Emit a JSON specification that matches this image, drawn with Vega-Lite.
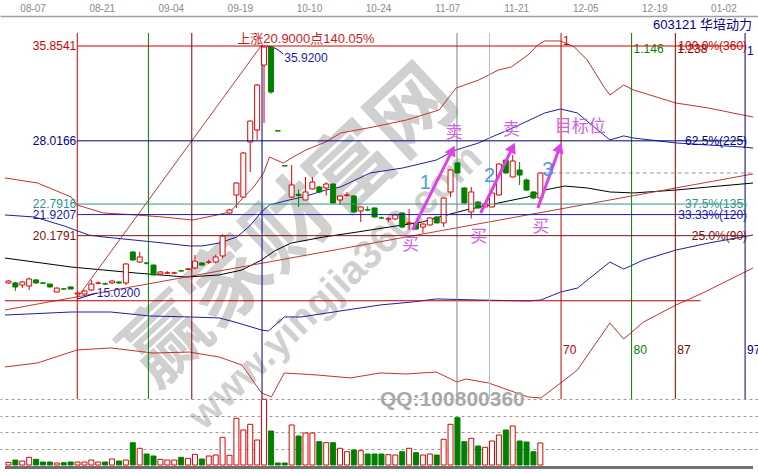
{
"$schema":"https://vega.github.io/schema/vega-lite/v6.json",
"width":758,"height":472,"autosize":{"type":"none"},"padding":0,"background":"#ffffff",
"config":{"view":{"stroke":null},"text":{"font":"Liberation Sans, Noto Sans CJK SC"}},
"datasets":{
"k":[
{"i":0,"o":16.27,"h":16.5,"l":16.2,"c":16.43,"v":2.7},
{"i":1,"o":16.27,"h":16.35,"l":15.61,"c":15.94,"v":5},
{"i":2,"o":16.10,"h":16.4,"l":15.85,"c":16.35,"v":4},
{"i":3,"o":16.02,"h":16.7,"l":15.69,"c":16.60,"v":7.7},
{"i":4,"o":16.52,"h":16.6,"l":16.2,"c":16.27,"v":5.7},
{"i":5,"o":16.27,"h":16.35,"l":16.18,"c":16.25,"v":3},
{"i":6,"o":16.18,"h":16.2,"l":15.9,"c":15.94,"v":3},
{"i":7,"o":15.52,"h":15.9,"l":15.5,"c":15.85,"v":2},
{"i":8,"o":15.78,"h":15.85,"l":15.7,"c":15.77,"v":2.3},
{"i":9,"o":15.94,"h":16.0,"l":15.75,"c":15.77,"v":3},
{"i":10,"o":15.36,"h":15.5,"l":15.02,"c":15.44,"v":3},
{"i":11,"o":15.36,"h":15.7,"l":15.3,"c":15.61,"v":3},
{"i":12,"o":15.69,"h":16.5,"l":15.6,"c":16.18,"v":5},
{"i":13,"o":16.25,"h":16.4,"l":16.15,"c":16.27,"v":3},
{"i":14,"o":16.20,"h":16.3,"l":16.1,"c":16.18,"v":3},
{"i":15,"o":16.27,"h":16.5,"l":16.2,"c":16.43,"v":6},
{"i":16,"o":16.35,"h":16.4,"l":16.2,"c":16.27,"v":4},
{"i":17,"o":16.27,"h":17.9,"l":16.1,"c":17.84,"v":5},
{"i":18,"o":18.83,"h":18.9,"l":18.1,"c":18.17,"v":22.3},
{"i":19,"o":18.00,"h":18.83,"l":17.95,"c":18.42,"v":16.7},
{"i":20,"o":17.92,"h":18.0,"l":17.8,"c":17.90,"v":11},
{"i":21,"o":17.75,"h":17.8,"l":16.9,"c":16.93,"v":9},
{"i":22,"o":17.01,"h":17.25,"l":16.95,"c":17.18,"v":5.7},
{"i":23,"o":17.09,"h":17.25,"l":17.0,"c":17.10,"v":5},
{"i":24,"o":17.09,"h":17.2,"l":17.0,"c":17.10,"v":5},
{"i":25,"o":17.28,"h":17.35,"l":17.2,"c":17.26,"v":7.7},
{"i":26,"o":17.40,"h":17.5,"l":17.35,"c":17.42,"v":6.7},
{"i":27,"o":17.51,"h":18.58,"l":17.4,"c":18.08,"v":10.7},
{"i":28,"o":17.92,"h":18.0,"l":17.7,"c":17.75,"v":6},
{"i":29,"o":17.98,"h":18.2,"l":17.85,"c":18.00,"v":9},
{"i":30,"o":18.00,"h":18.6,"l":17.9,"c":18.42,"v":10},
{"i":31,"o":18.50,"h":20.3,"l":18.3,"c":20.15,"v":27.7},
{"i":32,"o":22.05,"h":22.4,"l":22.0,"c":22.30,"v":9.7},
{"i":33,"o":23.54,"h":24.6,"l":22.47,"c":24.53,"v":46.7},
{"i":34,"o":23.37,"h":27.1,"l":23.3,"c":27.01,"v":35},
{"i":35,"o":27.92,"h":29.7,"l":25.44,"c":29.65,"v":40.7},
{"i":36,"o":28.91,"h":32.7,"l":28.09,"c":32.63,"v":25},
{"i":37,"o":34.28,"h":35.92,"l":29.49,"c":35.77,"v":65.7},
{"i":38,"o":35.77,"h":35.85,"l":31.9,"c":32.05,"v":34},
{"i":39,"o":28.85,"h":28.85,"l":28.83,"c":28.83,"v":2},
{"i":40,"o":25.96,"h":25.96,"l":25.94,"c":25.94,"v":2},
{"i":41,"o":23.37,"h":26.02,"l":23.3,"c":24.37,"v":40},
{"i":42,"o":23.6,"h":24.0,"l":22.55,"c":23.5,"v":29},
{"i":43,"o":23.13,"h":25.03,"l":23.1,"c":23.79,"v":32},
{"i":44,"o":24.04,"h":25.03,"l":24.0,"c":24.61,"v":32},
{"i":45,"o":24.20,"h":24.3,"l":23.7,"c":23.79,"v":23.3},
{"i":46,"o":24.12,"h":24.6,"l":23.5,"c":24.45,"v":22.3},
{"i":47,"o":24.45,"h":24.5,"l":22.8,"c":22.88,"v":22.3},
{"i":48,"o":23.13,"h":23.5,"l":22.71,"c":23.46,"v":16.7},
{"i":49,"o":23.52,"h":23.8,"l":23.4,"c":23.54,"v":13.3},
{"i":50,"o":23.46,"h":23.5,"l":22.1,"c":22.14,"v":15},
{"i":51,"o":22.22,"h":22.6,"l":21.31,"c":22.55,"v":14.3},
{"i":52,"o":22.32,"h":22.6,"l":22.2,"c":22.30,"v":11},
{"i":53,"o":22.47,"h":22.5,"l":21.65,"c":21.72,"v":11},
{"i":54,"o":21.65,"h":21.75,"l":21.55,"c":21.64,"v":11},
{"i":55,"o":21.55,"h":21.7,"l":21.3,"c":21.57,"v":10.3},
{"i":56,"o":21.56,"h":22.0,"l":21.5,"c":21.89,"v":10},
{"i":57,"o":22.05,"h":22.1,"l":20.8,"c":20.89,"v":13.3},
{"i":58,"o":21.2,"h":22.38,"l":20.65,"c":21.23,"v":16.7},
{"i":59,"o":21.23,"h":21.3,"l":20.65,"c":20.73,"v":12.3},
{"i":60,"o":20.89,"h":21.2,"l":20.40,"c":21.14,"v":10},
{"i":61,"o":21.06,"h":21.7,"l":21.0,"c":21.64,"v":11},
{"i":62,"o":21.72,"h":21.8,"l":21.2,"c":21.23,"v":10},
{"i":63,"o":21.23,"h":23.35,"l":20.9,"c":23.29,"v":25.7},
{"i":64,"o":23.79,"h":25.65,"l":23.37,"c":25.61,"v":40.7},
{"i":65,"o":26.19,"h":26.25,"l":25.3,"c":25.36,"v":47.3},
{"i":66,"o":24.12,"h":24.2,"l":22.8,"c":22.88,"v":23.3},
{"i":67,"o":22.14,"h":24.2,"l":21.6,"c":23.79,"v":26.7},
{"i":68,"o":22.96,"h":23.0,"l":22.4,"c":22.47,"v":19},
{"i":69,"o":22.55,"h":22.85,"l":22.5,"c":22.80,"v":17.7},
{"i":70,"o":22.55,"h":23.75,"l":22.5,"c":23.71,"v":24},
{"i":71,"o":23.54,"h":26.15,"l":23.5,"c":26.10,"v":30},
{"i":72,"o":26.43,"h":26.5,"l":25.3,"c":25.36,"v":35},
{"i":73,"o":25.03,"h":26.85,"l":25.0,"c":26.35,"v":39},
{"i":74,"o":25.61,"h":26.27,"l":24.37,"c":25.19,"v":24},
{"i":75,"o":24.78,"h":24.9,"l":23.9,"c":23.95,"v":23},
{"i":76,"o":23.79,"h":23.85,"l":23.2,"c":23.29,"v":13.3},
{"i":77,"o":23.29,"h":25.4,"l":23.2,"c":25.36,"v":22}
],
"bd":[
{"s":"ur","i":-0.5,"p":24.95},{"s":"ur","i":4.21,"p":24.53},{"s":"ur","i":9.07,"p":23.38},{"s":"ur","i":9.93,"p":22.71},{"s":"ur","i":13.79,"p":22.05},{"s":"ur","i":18.5,"p":21.89},{"s":"ur","i":22.36,"p":21.72},{"s":"ur","i":26.64,"p":21.47},{"s":"ur","i":30.21,"p":21.89},{"s":"ur","i":32.07,"p":22.14},{"s":"ur","i":34.07,"p":23.38},{"s":"ur","i":35.5,"p":24.2},{"s":"ur","i":36.93,"p":25.36},{"s":"ur","i":37.79,"p":26.68},{"s":"ur","i":39.79,"p":26.18},{"s":"ur","i":41.21,"p":26.68},{"s":"ur","i":43.07,"p":27.26},{"s":"ur","i":45.93,"p":27.92},{"s":"ur","i":48.07,"p":28.66},{"s":"ur","i":52.79,"p":29.16},{"s":"ur","i":57.64,"p":29.74},{"s":"ur","i":62.36,"p":30.57},{"s":"ur","i":64.79,"p":32.38},{"s":"ur","i":68.07,"p":33.04},{"s":"ur","i":70.93,"p":33.87},{"s":"ur","i":72.79,"p":34.12},{"s":"ur","i":75.21,"p":35.11},{"s":"ur","i":76.64,"p":35.94},{"s":"ur","i":77.64,"p":36.27},{"s":"ur","i":79.93,"p":36.27},{"s":"ur","i":81.93,"p":35.77},{"s":"ur","i":83.79,"p":34.7},{"s":"ur","i":86.21,"p":32.47},{"s":"ur","i":87.07,"p":31.8},{"s":"ur","i":89.07,"p":32.63},{"s":"ur","i":90.5,"p":32.22},{"s":"ur","i":96.64,"p":31.14},{"s":"ur","i":101.36,"p":30.73},{"s":"ur","i":106.21,"p":30.16},{"s":"ur","i":107.79,"p":29.99},
{"s":"ub","i":-0.5,"p":21.89},{"s":"ub","i":3.79,"p":21.72},{"s":"ub","i":8.07,"p":20.98},{"s":"ub","i":11.64,"p":20.23},{"s":"ub","i":13.79,"p":20.07},{"s":"ub","i":20.93,"p":19.66},{"s":"ub","i":26.21,"p":19.33},{"s":"ub","i":28.07,"p":19.33},{"s":"ub","i":30.5,"p":19.57},{"s":"ub","i":33.07,"p":20.07},{"s":"ub","i":34.93,"p":20.98},{"s":"ub","i":36.64,"p":22.14},{"s":"ub","i":37.79,"p":22.71},{"s":"ub","i":40.64,"p":23.13},{"s":"ub","i":42.64,"p":23.38},{"s":"ub","i":45.93,"p":23.95},{"s":"ub","i":48.07,"p":24.2},{"s":"ub","i":52.36,"p":25.36},{"s":"ub","i":57.07,"p":25.77},{"s":"ub","i":61.93,"p":26.43},{"s":"ub","i":64.79,"p":27.26},{"s":"ub","i":68.07,"p":27.84},{"s":"ub","i":69.93,"p":28.33},{"s":"ub","i":72.36,"p":28.91},{"s":"ub","i":77.64,"p":30.32},{"s":"ub","i":79.93,"p":30.65},{"s":"ub","i":82.36,"p":30.32},{"s":"ub","i":84.79,"p":29.16},{"s":"ub","i":87.07,"p":28.09},{"s":"ub","i":89.07,"p":28.42},{"s":"ub","i":90.5,"p":28.25},{"s":"ub","i":96.64,"p":27.84},{"s":"ub","i":101.36,"p":27.67},{"s":"ub","i":106.21,"p":27.51},{"s":"ub","i":107.79,"p":27.42},
{"s":"ma","i":-0.5,"p":18.33},{"s":"ma","i":9.07,"p":17.59},{"s":"ma","i":13.79,"p":17.34},{"s":"ma","i":18.5,"p":17.09},{"s":"ma","i":25.64,"p":16.76},{"s":"ma","i":30.5,"p":16.93},{"s":"ma","i":33.79,"p":17.34},{"s":"ma","i":36.64,"p":18.17},{"s":"ma","i":38.5,"p":18.91},{"s":"ma","i":40.93,"p":19.57},{"s":"ma","i":45.64,"p":20.07},{"s":"ma","i":50.5,"p":20.48},{"s":"ma","i":55.21,"p":20.9},{"s":"ma","i":59.93,"p":21.31},{"s":"ma","i":62.36,"p":21.72},{"s":"ma","i":66.21,"p":22.3},{"s":"ma","i":70.93,"p":22.88},{"s":"ma","i":75.21,"p":23.38},{"s":"ma","i":77.64,"p":23.95},{"s":"ma","i":80.5,"p":24.28},{"s":"ma","i":83.79,"p":24.12},{"s":"ma","i":87.07,"p":23.79},{"s":"ma","i":90.5,"p":23.71},{"s":"ma","i":96.64,"p":23.95},{"s":"ma","i":101.36,"p":24.2},{"s":"ma","i":107.79,"p":24.53},
{"s":"lb","i":-0.5,"p":13.62},{"s":"lb","i":9.07,"p":13.87},{"s":"lb","i":14.79,"p":13.87},{"s":"lb","i":20.5,"p":13.54},{"s":"lb","i":26.21,"p":13.46},{"s":"lb","i":30.5,"p":13.38},{"s":"lb","i":32.79,"p":13.04},{"s":"lb","i":36.64,"p":12.38},{"s":"lb","i":37.64,"p":12.3},{"s":"lb","i":39.93,"p":13.46},{"s":"lb","i":42.36,"p":13.46},{"s":"lb","i":47.07,"p":13.87},{"s":"lb","i":53.79,"p":14.45},{"s":"lb","i":58.5,"p":14.7},{"s":"lb","i":61.93,"p":14.95},{"s":"lb","i":68.07,"p":14.86},{"s":"lb","i":75.21,"p":14.78},{"s":"lb","i":77.07,"p":14.86},{"s":"lb","i":79.93,"p":15.52},{"s":"lb","i":82.36,"p":15.85},{"s":"lb","i":87.07,"p":18.0},{"s":"lb","i":89.07,"p":17.42},{"s":"lb","i":91.93,"p":18.17},{"s":"lb","i":96.64,"p":18.99},{"s":"lb","i":101.36,"p":19.57},{"s":"lb","i":106.21,"p":20.07},{"s":"lb","i":107.79,"p":20.23},
{"s":"lr","i":-0.5,"p":9.33},{"s":"lr","i":4.21,"p":9.66},{"s":"lr","i":9.93,"p":10.73},{"s":"lr","i":14.79,"p":10.9},{"s":"lr","i":20.93,"p":10.48},{"s":"lr","i":26.21,"p":10.56},{"s":"lr","i":30.5,"p":10.15},{"s":"lr","i":33.79,"p":9.49},{"s":"lr","i":36.64,"p":7.18},{"s":"lr","i":38.07,"p":6.85},{"s":"lr","i":39.93,"p":8.83},{"s":"lr","i":44.79,"p":8.66},{"s":"lr","i":49.5,"p":8.42},{"s":"lr","i":53.79,"p":8.83},{"s":"lr","i":57.64,"p":8.75},{"s":"lr","i":61.93,"p":8.91},{"s":"lr","i":64.93,"p":8.09},{"s":"lr","i":66.21,"p":8.33},{"s":"lr","i":69.5,"p":8.0},{"s":"lr","i":75.21,"p":6.85},{"s":"lr","i":77.07,"p":6.76},{"s":"lr","i":79.93,"p":8.0},{"s":"lr","i":82.36,"p":9.08},{"s":"lr","i":87.07,"p":12.96},{"s":"lr","i":89.07,"p":11.64},{"s":"lr","i":91.93,"p":13.04},{"s":"lr","i":96.64,"p":14.45},{"s":"lr","i":100.5,"p":15.44},{"s":"lr","i":106.64,"p":17.18},{"s":"lr","i":107.79,"p":17.51}
],
"lv":[
{"lv":"100","p":35.8541,"i":9.96,"i2":106.64,"ir":106.93,"t":"35.8541","r":"100.0%(360)"},
{"lv":"62.5","p":28.0166,"i":9.96,"i2":106.64,"ir":106.93,"t":"28.0166","r":"62.5%(225)"},
{"lv":"37.5","p":22.7916,"i":9.96,"i2":106.64,"ir":106.93,"t":"22.7916","r":"37.5%(135)"},
{"lv":"33.33","p":21.9207,"i":9.96,"i2":106.64,"ir":106.93,"t":"21.9207","r":"33.33%(120)"},
{"lv":"25","p":20.1791,"i":9.96,"i2":106.64,"ir":106.93,"t":"20.1791","r":"25.0%(90)"}
],
"vl":[
{"id":"a","i":9.96,"p":36.93,"p2":6.68,"pb":10.73,"tp":"","bt":"","tq":0},
{"id":"b","i":20.26,"p":36.93,"p2":6.68,"pb":10.73,"tp":"","bt":"","tq":0},
{"id":"c","i":26.54,"p":36.93,"p2":6.68,"pb":10.73,"tp":"","bt":"","tq":0},
{"id":"d","i":36.71,"p":35.92,"p2":6.68,"pb":10.73,"tp":"","bt":"","tq":0},
{"id":"e","i":64.93,"p":36.93,"p2":6.68,"pb":10.73,"tp":"","bt":"","tq":0},
{"id":"f","i":69.64,"p":36.93,"p2":6.68,"pb":10.73,"tp":"","bt":"","tq":0},
{"id":"g","i":80.0,"p":36.93,"p2":6.68,"pb":10.73,"tp":"1","bt":"70","tq":36.27},
{"id":"h","i":90.21,"p":36.93,"p2":6.68,"pb":10.73,"tp":"1.146","bt":"80","tq":35.61},
{"id":"j","i":96.54,"p":36.93,"p2":6.68,"pb":10.73,"tp":"1.238","bt":"87","tq":35.61},
{"id":"m","i":106.64,"p":36.93,"p2":6.68,"pb":10.73,"tp":"1","bt":"97","tq":35.44}
],
"sg":[
{"id":"trend","i":-0.5,"p":14.04,"i2":107.79,"p2":25.28},
{"id":"diag","i":9.93,"p":15.02,"i2":36.64,"p2":35.92},
{"id":"base","i":-0.5,"p":14.80,"i2":100.2,"p2":14.80},
{"id":"lead","i":9.93,"p":14.94,"i2":12.79,"p2":15.44}
],
"ar":[
{"n":1,"i":58.5,"p":20.65,"i2":64.26,"p2":27.23},
{"n":2,"i":68.36,"p":22.05,"i2":72.98,"p2":27.47},
{"n":3,"i":76.64,"p":22.47,"i2":79.79,"p2":27.46}
],
"ah":[
{"n":1,"i":64.26,"p":27.23},
{"n":2,"i":72.98,"p":27.47},
{"n":3,"i":79.79,"p":27.46}
]
},
"resolve":{"scale":{"y":"independent"}},
"layer":[
{
"encoding":{
"x":{"field":"i","type":"quantitative","scale":{"domain":[-0.5,107.786],"nice":false,"zero":false},"axis":{"orient":"top","offset":-16,"values":[3.5,13.5,23.5,33.5,43.5,53.5,63.5,73.5,83.5,93.5,103.5],"labelExpr":"['08-07','08-21','09-04','09-19','10-10','10-24','11-07','11-21','12-05','12-19','01-02'][round((datum.value-3.5)/10)]","ticks":false,"grid":false,"title":null,"domainColor":"#a0a0a0","domainWidth":1.5,"labelColor":"#8a8a8a","labelFontSize":10,"labelFont":"Liberation Sans","labelPadding":3,"labelOverlap":false,"labelFlush":false}},
"y":{"field":"p","type":"quantitative","scale":{"domain":[0.647,39.656],"nice":false,"zero":false},"axis":null}
},
"resolve":{"scale":{"color":"independent"}},
"layer":[
{"data":{"values":[{"i":41.0,"p":20.8,"t":"赢家财富网"}]},"mark":{"type":"text","angle":-43,"fontSize":84,"fontWeight":"bold","color":"#8c8c8c","opacity":0.4,"font":"Noto Sans CJK SC","align":"center","baseline":"middle"},"encoding":{"text":{"field":"t"}}},
{"data":{"values":[{"i":47.36,"p":15.9,"t":"www.yingjia360.com"}]},"mark":{"type":"text","angle":-44,"fontSize":40,"fontWeight":"bold","color":"#8c8c8c","opacity":0.4,"align":"center","baseline":"middle"},"encoding":{"text":{"field":"t"}}},
{"data":{"name":"bd"},"mark":{"type":"line","strokeWidth":1},"encoding":{"color":{"field":"s","type":"nominal","scale":{"domain":["ur","ub","ma","lb","lr"],"range":["#c83030","#20209a","#000000","#20209a","#c83030"]},"legend":null}}},
{"data":{"name":"sg"},"mark":{"type":"rule","strokeWidth":1},"encoding":{"x2":{"field":"i2"},"y2":{"field":"p2"},"color":{"field":"id","type":"nominal","scale":{"domain":["trend","diag","base","lead"],"range":["#c03a3a","#c03a3a","#c00000","#000080"]},"legend":null}}},
{"data":{"values":[{"i":77.64,"i2":107.79,"p":25.36}]},"mark":{"type":"rule","color":"#999999","strokeDash":[4,3]},"encoding":{"x2":{"field":"i2"}}},
{"data":{"values":[{"i":37.36,"p":35.85},{"i":38.5,"p":35.7},{"i":39.79,"p":35.19}]},"mark":{"type":"line","color":"#000080","strokeWidth":1,"interpolate":"monotone"},"encoding":{}},
{"data":{"name":"vl"},"mark":{"type":"rule","strokeWidth":1},"encoding":{"y2":{"field":"p2"},"color":{"field":"id","type":"nominal","scale":{"domain":["a","b","c","d","e","f","g","h","j","m"],"range":["#c00000","#008000","#800000","#000080","#808080","#a8c0dc","#c00000","#008000","#800000","#000080"]},"legend":null}}},
{"data":{"name":"vl"},"transform":[{"filter":"datum.tp != ''"}],"mark":{"type":"text","align":"left","baseline":"middle","fontSize":12,"dx":2},"encoding":{"y":{"field":"tq","type":"quantitative","scale":{"domain":[0.647,39.656],"nice":false,"zero":false},"axis":null},"text":{"field":"tp"},"color":{"field":"id","type":"nominal","scale":{"domain":["a","b","c","d","e","f","g","h","j","m"],"range":["#c00000","#008000","#800000","#000080","#808080","#a8c0dc","#c00000","#008000","#800000","#000080"]},"legend":null}}},
{"data":{"name":"vl"},"transform":[{"filter":"datum.bt != ''"}],"mark":{"type":"text","align":"left","baseline":"middle","fontSize":12,"dx":2},"encoding":{"y":{"field":"pb","type":"quantitative","scale":{"domain":[0.647,39.656],"nice":false,"zero":false},"axis":null},"text":{"field":"bt"},"color":{"field":"id","type":"nominal","scale":{"domain":["a","b","c","d","e","f","g","h","j","m"],"range":["#c00000","#008000","#800000","#000080","#808080","#a8c0dc","#c00000","#008000","#800000","#000080"]},"legend":null}}},
{"data":{"name":"k"},"transform":[{"filter":"datum.c >= datum.o"}],"mark":{"type":"rule","color":"#e00000"},"encoding":{"y":{"field":"l","type":"quantitative","scale":{"domain":[0.647,39.656],"nice":false,"zero":false},"axis":null},"y2":{"field":"h"}}},
{"data":{"name":"k"},"transform":[{"filter":"datum.c < datum.o"}],"mark":{"type":"rule","color":"#008000"},"encoding":{"y":{"field":"l","type":"quantitative","scale":{"domain":[0.647,39.656],"nice":false,"zero":false},"axis":null},"y2":{"field":"h"}}},
{"data":{"name":"k"},"transform":[{"filter":"datum.c >= datum.o"}],"mark":{"type":"bar","width":5,"fill":"#ffffff","stroke":"#e00000","strokeWidth":1},"encoding":{"y":{"field":"o","type":"quantitative","scale":{"domain":[0.647,39.656],"nice":false,"zero":false},"axis":null},"y2":{"field":"c"}}},
{"data":{"name":"k"},"transform":[{"filter":"datum.c < datum.o"}],"mark":{"type":"bar","width":5,"fill":"#008000","stroke":"#008000","strokeWidth":1},"encoding":{"y":{"field":"o","type":"quantitative","scale":{"domain":[0.647,39.656],"nice":false,"zero":false},"axis":null},"y2":{"field":"c"}}},
{"data":{"name":"lv"},"mark":{"type":"rule","strokeWidth":1},"encoding":{"x2":{"field":"i2"},"color":{"field":"lv","type":"nominal","scale":{"domain":["100","62.5","37.5","33.33","25"],"range":["#d00000","#000080","#2f9488","#1c1ca8","#7a1414"]},"legend":null}}},
{"data":{"name":"lv"},"mark":{"type":"text","align":"right","baseline":"middle","fontSize":12,"dx":-1},"encoding":{"text":{"field":"t"},"color":{"field":"lv","type":"nominal","scale":{"domain":["100","62.5","37.5","33.33","25"],"range":["#d00000","#000080","#2f9488","#1c1ca8","#7a1414"]},"legend":null}}},
{"data":{"name":"lv"},"mark":{"type":"text","align":"right","baseline":"middle","fontSize":12},"encoding":{"x":{"field":"ir","type":"quantitative","scale":{"domain":[-0.5,107.786],"nice":false,"zero":false}},"text":{"field":"r"},"color":{"field":"lv","type":"nominal","scale":{"domain":["100","62.5","37.5","33.33","25"],"range":["#d00000","#000080","#2f9488","#1c1ca8","#7a1414"]},"legend":null}}},
{"data":{"name":"ar"},"mark":{"type":"rule","strokeWidth":3,"color":"#e040e8"},"encoding":{"x2":{"field":"i2"},"y2":{"field":"p2"}}},
{"data":{"name":"ah"},"mark":{"type":"point","shape":"triangle-up","filled":true,"size":140,"color":"#e040e8","opacity":1},"encoding":{"angle":{"condition":{"test":"datum.n == 3","value":20},"value":26}}},
{"data":{"values":[{"i":64.5,"p":28.66,"t":"卖"},{"i":72.79,"p":28.91,"t":"卖"},{"i":58.21,"p":19.41,"t":"买"},{"i":68.07,"p":20.07,"t":"买"},{"i":77.07,"p":20.9,"t":"买"},{"i":82.79,"p":29.16,"t":"目标位"}]},"mark":{"type":"text","fontSize":17,"color":"#cc66dd","font":"Noto Sans CJK SC","align":"center","baseline":"middle"},"encoding":{"text":{"field":"t"}}},
{"data":{"values":[{"i":60.36,"p":24.53,"t":"1"},{"i":69.64,"p":25.11,"t":"2"},{"i":78.07,"p":25.61,"t":"3"}]},"mark":{"type":"text","fontSize":20,"color":"#4a9ae0","align":"center","baseline":"middle"},"encoding":{"text":{"field":"t"}}},
{"data":{"values":[{"i":39.93,"p":34.86,"t":"35.9200"},{"i":12.79,"p":15.48,"t":"15.0200"}]},"mark":{"type":"text","fontSize":12,"color":"#1c1ca0","align":"left","baseline":"middle"},"encoding":{"text":{"field":"t"}}},
{"data":{"values":[{"i":107.64,"p":37.59,"t":"603121 华培动力"}]},"mark":{"type":"text","fontSize":13,"color":"#000080","align":"right","baseline":"middle"},"encoding":{"text":{"field":"t"}}},
{"data":{"values":[{"i":43.07,"p":36.43,"t":"上涨20.9000点140.05%"}]},"mark":{"type":"text","fontSize":13,"color":"#c81e1e","align":"center","baseline":"middle"},"encoding":{"text":{"field":"t"}}},
{"data":{"values":[{"i":53.79,"p":6.6,"t":"QQ:100800360"}]},"mark":{"type":"text","fontSize":21,"fontWeight":"bold","color":"#a8a8a8","align":"left","baseline":"middle"},"encoding":{"text":{"field":"t"}}}
]
},
{
"encoding":{
"x":{"field":"i","type":"quantitative","scale":{"domain":[-0.5,107.786],"nice":false,"zero":false},"axis":{"orient":"top","offset":-16,"values":[3.5,13.5,23.5,33.5,43.5,53.5,63.5,73.5,83.5,93.5,103.5],"labelExpr":"['08-07','08-21','09-04','09-19','10-10','10-24','11-07','11-21','12-05','12-19','01-02'][round((datum.value-3.5)/10)]","ticks":false,"grid":false,"title":null,"domainColor":"#a0a0a0","domainWidth":1.5,"labelColor":"#8a8a8a","labelFontSize":10,"labelFont":"Liberation Sans","labelPadding":3,"labelOverlap":false,"labelFlush":false}}
},
"layer":[
{"data":{"name":"k"},"transform":[{"filter":"datum.c >= datum.o"}],"mark":{"type":"bar","width":5,"fill":"#ffffff","stroke":"#e00000","strokeWidth":1},"encoding":{"y":{"field":"v","type":"quantitative","scale":{"domain":[0,66],"range":[465,399],"nice":false,"zero":false},"axis":{"orient":"right","grid":true,"values":[16.5,33,49.5,66],"labels":false,"ticks":false,"domain":false,"title":null,"gridColor":"#9a9a9a","gridDash":[3,3],"gridWidth":1}}}},
{"data":{"name":"k"},"transform":[{"filter":"datum.c < datum.o"}],"mark":{"type":"bar","width":5,"fill":"#008000","stroke":"#008000","strokeWidth":1},"encoding":{"y":{"field":"v","type":"quantitative","scale":{"domain":[0,66],"range":[465,399],"nice":false,"zero":false}}}},
{"data":{"values":[{"i":-0.5,"i2":107.786,"v":-2.5}]},"mark":{"type":"rule","color":"#707070","strokeWidth":3},"encoding":{"x2":{"field":"i2"},"y":{"field":"v","type":"quantitative","scale":{"domain":[0,66],"range":[465,399],"nice":false,"zero":false}}}}
]
}
]
}
